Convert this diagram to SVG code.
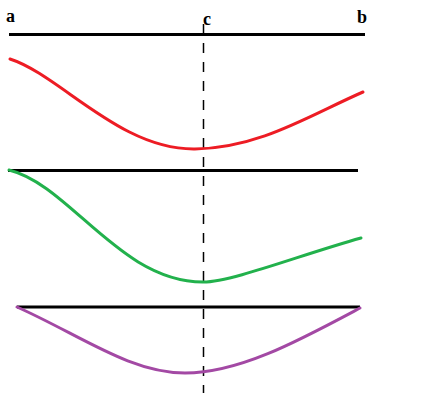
<svg xmlns="http://www.w3.org/2000/svg" width="442" height="417" viewBox="0 0 442 417">
<style>
.lbl{font-family:"Liberation Serif",serif;font-weight:bold;font-size:18px;fill:#000}
.axis{stroke:#000;stroke-width:3;fill:none}
.curve{stroke-width:3;fill:none;stroke-linecap:round}
</style>
<rect width="442" height="417" fill="#fff"/>
<g id="labels">
<text class="lbl" x="6" y="22">a</text>
<text class="lbl" x="203" y="25">c</text>
<text class="lbl" x="357" y="23">b</text>
</g>
<g id="axes">
<line class="axis" x1="9" y1="34.5" x2="365" y2="34.5"/>
<line class="axis" x1="8" y1="170.5" x2="358" y2="170.5"/>
<line class="axis" x1="17" y1="307" x2="360" y2="307"/>
</g>
<g id="connectors">
<line x1="203.5" y1="24" x2="203.5" y2="393" stroke="#000" stroke-width="1.5" stroke-dasharray="10 9"/>
</g>
<g id="red-curve">
<path class="curve" stroke="#ed1c24" d="M10,59 C60,75 120,150 195,149 C260,148 310,115 363,92"/>
</g>
<g id="green-curve">
<path class="curve" stroke="#22b14c" d="M9,170 C70,185 120,282 203,282 C232,282 300,255 361,238"/>
</g>
<g id="purple-curve">
<path class="curve" stroke="#a349a4" d="M17,307 C80,335 130,373 185,373 C240,373 300,340 360,308"/>
</g>
</svg>
